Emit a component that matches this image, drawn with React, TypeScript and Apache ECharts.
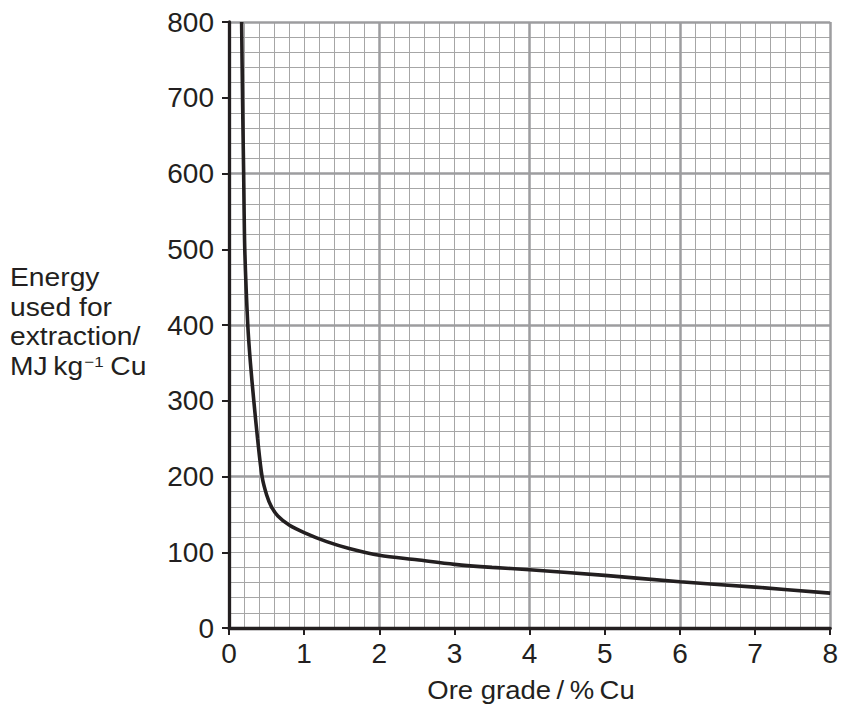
import React, { useEffect, useRef } from "react";
import * as echarts from "echarts";

const oreGrade = [0.168, 0.18, 0.195, 0.21, 0.25, 0.285, 0.33, 0.38, 0.44, 0.5, 0.565, 0.65, 0.8, 1.0, 1.3, 1.6, 2.0, 2.5, 3.0, 3.5, 4.0, 5.0, 6.0, 7.0, 8.0];
const energy = [800, 700, 600, 500, 400, 350, 300, 250, 200, 176, 160, 148, 136, 126, 114, 105, 96, 90, 84, 80, 77, 69.5, 61, 54, 46];
const xTickLabels = ["0", "1", "2", "3", "4", "5", "6", "7", "8"];
const yTickLabels = ["0", "100", "200", "300", "400", "500", "600", "700", "800"];
const yTitleLines = ["Energy", "used for", "extraction/"];
const xTitle = "Ore grade\u2009/\u2009%\u2009Cu";

const INK = "#231f20";
const FONT = "Liberation Sans, Arial, sans-serif";

export default function App() {
  const ref = useRef<HTMLDivElement>(null);
  useEffect(() => {
    if (!ref.current) return;
    const chart = echarts.init(ref.current, undefined, { renderer: "svg" });
    const hiddenAxisParts = {
      axisLine: { show: false },
      axisTick: { show: false },
      axisLabel: { show: false },
    };
    const titleStyle = { fontSize: 25, fontFamily: FONT, fill: INK, verticalAlign: "middle" };
    const option: any = {
      animation: false,
      backgroundColor: "#ffffff",
      grid: { left: 229, right: 8, top: 22, bottom: 78, containLabel: false },
      xAxis: [
        {
          type: "value",
          min: 0,
          max: 8,
          interval: 1,
          position: "bottom",
          z: 5,
          axisLine: { show: true, onZero: false, lineStyle: { color: INK, width: 3.3 } },
          axisTick: { show: true, length: 7, lineStyle: { color: INK, width: 2 } },
          axisLabel: {
            margin: 11,
            fontSize: 28,
            color: INK,
            fontFamily: FONT,
            formatter: (v: number) => xTickLabels[Math.round(v)] ?? "",
          },
          splitLine: { show: false },
        },
        {
          type: "value",
          min: 0,
          max: 8,
          interval: 0.2,
          z: 0,
          ...hiddenAxisParts,
          splitLine: { show: true, lineStyle: { color: "#a6a6a6", width: 1 } },
        },
        {
          type: "value",
          min: 0,
          max: 8,
          interval: 2,
          z: 1,
          ...hiddenAxisParts,
          splitLine: { show: true, lineStyle: { color: "#9d9d9f", width: 2.5 } },
        },
      ],
      yAxis: [
        {
          type: "value",
          min: 0,
          max: 800,
          interval: 100,
          position: "left",
          z: 5,
          axisLine: { show: true, onZero: false, lineStyle: { color: INK, width: 3.3 } },
          axisTick: { show: true, length: 7, lineStyle: { color: INK, width: 2 } },
          axisLabel: {
            margin: 15,
            fontSize: 28,
            color: INK,
            fontFamily: FONT,
            formatter: (v: number) => yTickLabels[Math.round(v / 100)] ?? "",
          },
          splitLine: { show: false },
        },
        {
          type: "value",
          min: 0,
          max: 800,
          interval: 20,
          z: 0,
          ...hiddenAxisParts,
          splitLine: { show: true, lineStyle: { color: "#a6a6a6", width: 1 } },
        },
        {
          type: "value",
          min: 0,
          max: 800,
          interval: 200,
          z: 1,
          ...hiddenAxisParts,
          splitLine: { show: true, lineStyle: { color: "#9d9d9f", width: 2.5 } },
        },
      ],
      series: [
        {
          type: "line",
          xAxisIndex: 0,
          yAxisIndex: 0,
          z: 3,
          data: oreGrade.map((x, i) => [x, energy[i]]),
          smooth: 0.3,
          showSymbol: false,
          symbol: "none",
          clip: true,
          lineStyle: { color: INK, width: 3.6 },
        },
      ],
      graphic: [
        ...yTitleLines.map((t, i) => ({
          type: "text",
          x: 10,
          y: 278 + i * 29.5,
          scaleX: 1.13,
          z: 10,
          style: { ...titleStyle, text: t },
        })),
        {
          type: "text",
          x: 10,
          y: 366.5,
          scaleX: 1.13,
          z: 10,
          style: {
            ...titleStyle,
            text: "MJ\u2009kg{sup|\u22121}\u2009Cu",
            rich: {
              sup: { fontSize: 15, fontFamily: FONT, fill: INK, verticalAlign: "top", lineHeight: 24, padding: [0, 1, 0, 1] },
            },
          },
        },
        {
          type: "text",
          x: 531,
          y: 690,
          scaleX: 1.1,
          z: 10,
          style: { ...titleStyle, text: xTitle, align: "center" },
        },
      ],
    };
    chart.setOption(option);
    return () => chart.dispose();
  }, []);
  return <div ref={ref} style={{ width: 841, height: 706, position: "absolute", left: 0, top: 0 }} />;
}
